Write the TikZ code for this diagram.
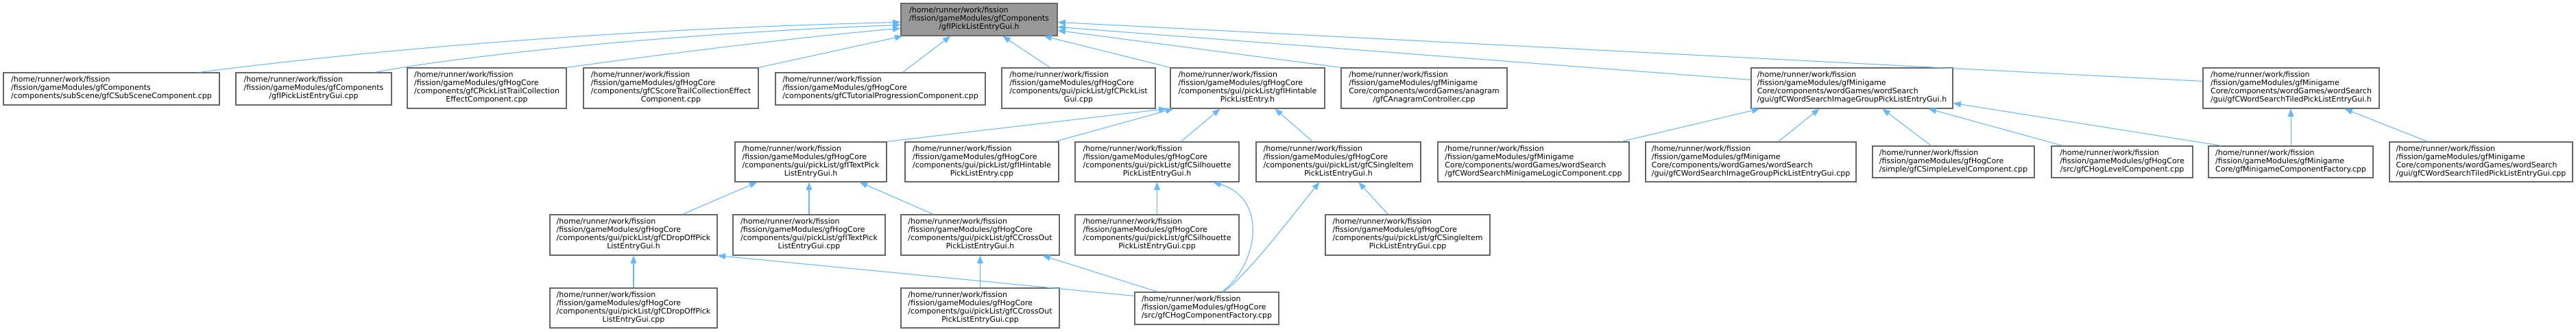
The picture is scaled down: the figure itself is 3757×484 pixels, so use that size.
\documentclass[tikz,border=0pt]{standalone}
\usepackage{fontspec}
\setmainfont{DejaVu Sans}
\usetikzlibrary{arrows.meta,calc}
\definecolor{edgecol}{HTML}{63B8FF}
\definecolor{boxline}{HTML}{666666}
\definecolor{mainfill}{HTML}{999999}
\newcommand\lbl[2]{\begin{tabular}{@{}l@{}}#1\\\multicolumn{1}{@{}c@{}}{#2}\end{tabular}}
\newcommand\bx[8][]{\node[box,#1,minimum width={(#5-#3)*0.75pt},minimum height={(#6-#4)*0.75pt}] (#2) at ({(#3+#5)/2},{(#4+#6)/2}) {\lbl{#7}{#8}};}
\tikzset{
  box/.style={draw=boxline,fill=white,line width=0.9pt,inner sep=0pt,font=\fontsize{8.25}{9}\selectfont},
  mainbox/.style={fill=mainfill},
  edge/.style={draw=edgecol,line width=0.8pt,-{Triangle[length=8.5pt,width=6.5pt]}}
}
\begin{document}
\begin{tikzpicture}[x=0.75pt,y=-0.75pt]
\useasboundingbox[fill=white] (0,0) rectangle (3757,484);
\def\hr{/home/runner/work/fission}
% top
\bx[mainbox]{main}{1314}{5}{1542}{52}{\hr\\/fission/gameModules/gfComponents}{/gfIPickListEntryGui.h}
% row 2
\bx{A}{5}{106}{320}{153}{\hr\\/fission/gameModules/gfComponents}{/components/subScene/gfCSubSceneComponent.cpp}
\bx{B}{344}{106}{571}{153}{\hr\\/fission/gameModules/gfComponents}{/gfIPickListEntryGui.cpp}
\bx{C}{594}{99}{826}{158}{\hr\\/fission/gameModules/gfHogCore\\/components/gfCPickListTrailCollection}{EffectComponent.cpp}
\bx{D}{851}{99}{1106}{158}{\hr\\/fission/gameModules/gfHogCore\\/components/gfCScoreTrailCollectionEffect}{Component.cpp}
\bx{E}{1131}{106}{1437}{153}{\hr\\/fission/gameModules/gfHogCore}{/components/gfCTutorialProgressionComponent.cpp}
\bx{F}{1461}{99}{1685}{158}{\hr\\/fission/gameModules/gfHogCore\\/components/gui/pickList/gfCPickList}{Gui.cpp}
\bx{G}{1707}{99}{1932}{158}{\hr\\/fission/gameModules/gfHogCore\\/components/gui/pickList/gfIHintable}{PickListEntry.h}
\bx{H}{1956}{99}{2198}{158}{\hr\\/fission/gameModules/gfMinigame\\Core/components/wordGames/anagram}{/gfCAnagramController.cpp}
\bx{I}{2554}{99}{2848}{158}{\hr\\/fission/gameModules/gfMinigame\\Core/components/wordGames/wordSearch}{/gui/gfCWordSearchImageGroupPickListEntryGui.h}
\bx{J}{3213}{99}{3470}{158}{\hr\\/fission/gameModules/gfMinigame\\Core/components/wordGames/wordSearch}{/gui/gfCWordSearchTiledPickListEntryGui.h}
% row 3
\bx{K}{1072}{207}{1293}{265}{\hr\\/fission/gameModules/gfHogCore\\/components/gui/pickList/gfITextPick}{ListEntryGui.h}
\bx{L}{1320}{207}{1544}{265}{\hr\\/fission/gameModules/gfHogCore\\/components/gui/pickList/gfIHintable}{PickListEntry.cpp}
\bx{M}{1568}{207}{1807}{265}{\hr\\/fission/gameModules/gfHogCore\\/components/gui/pickList/gfCSilhouette}{PickListEntryGui.h}
\bx{N}{1832}{207}{2072}{265}{\hr\\/fission/gameModules/gfHogCore\\/components/gui/pickList/gfCSingleItem}{PickListEntryGui.h}
\bx{O}{2097}{207}{2376}{265}{\hr\\/fission/gameModules/gfMinigame\\Core/components/wordGames/wordSearch}{/gfCWordSearchMinigameLogicComponent.cpp}
\bx{P}{2400}{207}{2707}{265}{\hr\\/fission/gameModules/gfMinigame\\Core/components/wordGames/wordSearch}{/gui/gfCWordSearchImageGroupPickListEntryGui.cpp}
\bx{Q}{2731}{213}{2967}{259}{\hr\\/fission/gameModules/gfHogCore}{/simple/gfCSimpleLevelComponent.cpp}
\bx{R}{2992}{213}{3198}{259}{\hr\\/fission/gameModules/gfHogCore}{/src/gfCHogLevelComponent.cpp}
\bx{S}{3221}{213}{3461}{259}{\hr\\/fission/gameModules/gfMinigame}{Core/gfMinigameComponentFactory.cpp}
\bx{T}{3485}{207}{3752}{265}{\hr\\/fission/gameModules/gfMinigame\\Core/components/wordGames/wordSearch}{/gui/gfCWordSearchTiledPickListEntryGui.cpp}
% row 4
\bx{U}{802}{313}{1046}{372}{\hr\\/fission/gameModules/gfHogCore\\/components/gui/pickList/gfCDropOffPick}{ListEntryGui.h}
\bx{V}{1069}{313}{1291}{372}{\hr\\/fission/gameModules/gfHogCore\\/components/gui/pickList/gfITextPick}{ListEntryGui.cpp}
\bx{W}{1314}{313}{1545}{372}{\hr\\/fission/gameModules/gfHogCore\\/components/gui/pickList/gfCCrossOut}{PickListEntryGui.h}
\bx{X}{1568}{313}{1807}{372}{\hr\\/fission/gameModules/gfHogCore\\/components/gui/pickList/gfCSilhouette}{PickListEntryGui.cpp}
\bx{Y}{1933}{313}{2173}{372}{\hr\\/fission/gameModules/gfHogCore\\/components/gui/pickList/gfCSingleItem}{PickListEntryGui.cpp}
% row 5
\bx{Z}{802}{420}{1046}{478}{\hr\\/fission/gameModules/gfHogCore\\/components/gui/pickList/gfCDropOffPick}{ListEntryGui.cpp}
\bx{AA}{1314}{420}{1545}{478}{\hr\\/fission/gameModules/gfHogCore\\/components/gui/pickList/gfCCrossOut}{PickListEntryGui.cpp}
\bx{AB}{1655}{426}{1865}{473}{\hr\\/fission/gameModules/gfHogCore}{/src/gfCHogComponentFactory.cpp}
% edges to main
\draw[edge] ($(A.north west)+(286,0)$) .. controls (450,85) and (800,45) .. ($(main.north west)+(0,28)$);
\draw[edge] ($(B.north west)+(204,0)$) .. controls (650,85) and (950,50) .. ($(main.north west)+(0,32)$);
\draw[edge] (C.north east) .. controls (900,88) and (1150,55) .. ($(main.north west)+(0,37)$);
\draw[edge] (D.north east) -- ($(main.south west)+(3,0)$);
\draw[edge] ($(E.north west)+(186,0)$) -- ($(main.south west)+(73,0)$);
\draw[edge] ($(F.north west)+(71,0)$) -- ($(main.south west)+(149,0)$);
\draw[edge] (G.north west) -- ($(main.south east)+(-20,0)$);
\draw[edge] (H.north west) -- ($(main.north east)+(0,40)$);
\draw[edge] ($(I.north west)+(0,18)$) -- ($(main.north east)+(0,35)$);
\draw[edge] ($(J.north west)+(0,20)$) -- ($(main.north east)+(0,28)$);
% edges to G
\draw[edge] (K.north east) -- ($(G.south west)+(-5,0)$);
\draw[edge] ($(L.north east)+(-6,0)$) -- ($(G.south west)+(5,0)$);
\draw[edge] ($(M.north west)+(155,0)$) -- ($(G.south west)+(73,0)$);
\draw[edge] ($(N.north west)+(83,0)$) -- ($(G.south west)+(153,0)$);
% edges to K
\draw[edge] ($(U.north west)+(194,0)$) -- ($(K.south west)+(33,0)$);
\draw[edge] (V.north) -- (V.north |- K.south);
\draw[edge] ($(W.north west)+(48,0)$) -- ($(K.south east)+(-40,0)$);
% edges to U, W
\draw[edge] (Z.north) -- (U.south);
\draw[edge] ($(AB.north west)+(0,6)$) -- (U.south east);
\draw[edge] (AA.north) -- (W.south);
\draw[edge] ($(AB.north west)+(34,0)$) -- ($(W.south east)+(-25,0)$);
% edges to M, N
\draw[edge] (X.north) -- (M.south);
\draw[edge] ($(AB.north west)+(128,0)$) .. controls (1835,385) and (1850,290) .. ($(M.south west)+(202,0)$);
\draw[edge] ($(AB.north west)+(130,0)$) .. controls (1820,400) and (1880,320) .. ($(N.south west)+(93,0)$);
\draw[edge] ($(Y.north west)+(92,0)$) -- ($(N.south west)+(150,0)$);
% edges to I
\draw[edge] ($(O.north east)+(-12,0)$) -- ($(I.south west)+(13,0)$);
\draw[edge] ($(P.north west)+(194,0)$) -- ($(I.south west)+(100,0)$);
\draw[edge] ($(Q.north west)+(86,0)$) -- ($(I.south west)+(192,0)$);
\draw[edge] ($(R.north west)+(17,0)$) -- ($(I.south east)+(-36,0)$);
\draw[edge] ($(S.north west)+(19,0)$) -- ($(I.north east)+(0,52)$);
% edges to J
\draw[edge] (S.north) -- (S.north |- J.south);
\draw[edge] ($(T.north west)+(56,0)$) -- ($(J.south west)+(207,0)$);
\end{tikzpicture}
\end{document}
